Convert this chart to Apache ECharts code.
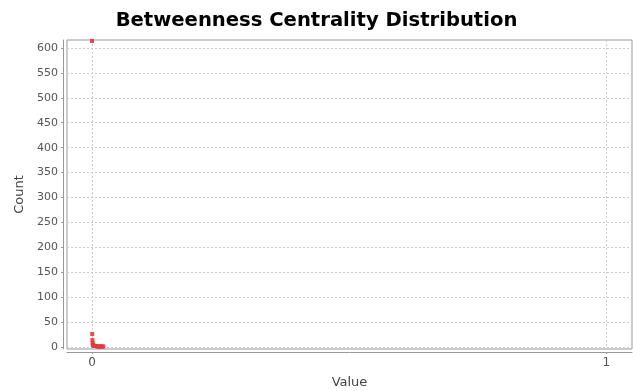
<!DOCTYPE html>
<html><head><meta charset="utf-8">
<script src="https://cdn.jsdelivr.net/npm/echarts@6/dist/echarts.min.js"></script>
<style>html,body{margin:0;padding:0;background:#fff}#c{width:633px;height:391px}</style>
</head><body><div id="c"></div>
<script>
const title = "Betweenness Centrality Distribution";
const xName = "Value";
const yName = "Count";
const xTicks = [0, 1];
const yTicks = [0, 50, 100, 150, 200, 250, 300, 350, 400, 450, 500, 550, 600];
const values = [0, 0.0004, 0.0008, 0.0012, 0.0016, 0.002, 0.003, 0.004, 0.006, 0.008, 0.010, 0.012, 0.014, 0.016, 0.018, 0.020, 0.022];
const counts = [614, 26, 14, 8, 5, 4, 3, 2, 2, 2, 1, 1, 1, 1, 1, 1, 1];

const data = values.map((v, i) => [v, counts[i]]);
const chart = echarts.init(document.getElementById('c'));
const grid = '#cccccc';
const font = 'DejaVu Sans';
chart.setOption({
  animation: false,
  title: {text: title, left: 'center', top: 6,
    textStyle: {fontFamily: font, fontWeight: 'bold', fontSize: 19.6, color: '#000'}},
  grid: {left: 67, right: 1, top: 40, bottom: 42, outerBoundsMode: 'none', containLabel: false,
    show: true, borderColor: '#999', borderWidth: 1, backgroundColor: '#fff'},
  xAxis: {type: 'value', min: -0.0486, max: 1.05, offset: 3,
    name: xName, nameLocation: 'middle', nameGap: 24,
    nameTextStyle: {fontFamily: font, fontSize: 13, color: '#444'},
    axisLine: {show: true, onZero: false, lineStyle: {color: '#999'}},
    axisTick: {show: true, length: 2, customValues: xTicks, lineStyle: {color: '#999'}},
    axisLabel: {customValues: xTicks, fontFamily: font, fontSize: 12, color: '#555', margin: 5},
    splitLine: {show: true, lineStyle: {color: grid, type: [2, 2]}}},
  yAxis: {type: 'value', min: -4, max: 616, offset: 4,
    name: yName, nameLocation: 'middle', nameGap: 36,
    nameTextStyle: {fontFamily: font, fontSize: 13, color: '#444'},
    axisLine: {show: true, onZero: false, lineStyle: {color: '#999'}},
    axisTick: {show: true, length: 2, customValues: yTicks, lineStyle: {color: '#999'}},
    axisLabel: {customValues: yTicks, fontFamily: font, fontSize: 11, color: '#555', margin: 5},
    splitLine: {show: true, lineStyle: {color: grid, type: [2, 2]}}},
  series: [{type: 'scatter', data: data, symbol: 'rect', symbolSize: 4,
    itemStyle: {color: '#e5383b', opacity: 0.9}}]
});
</script></body></html>
